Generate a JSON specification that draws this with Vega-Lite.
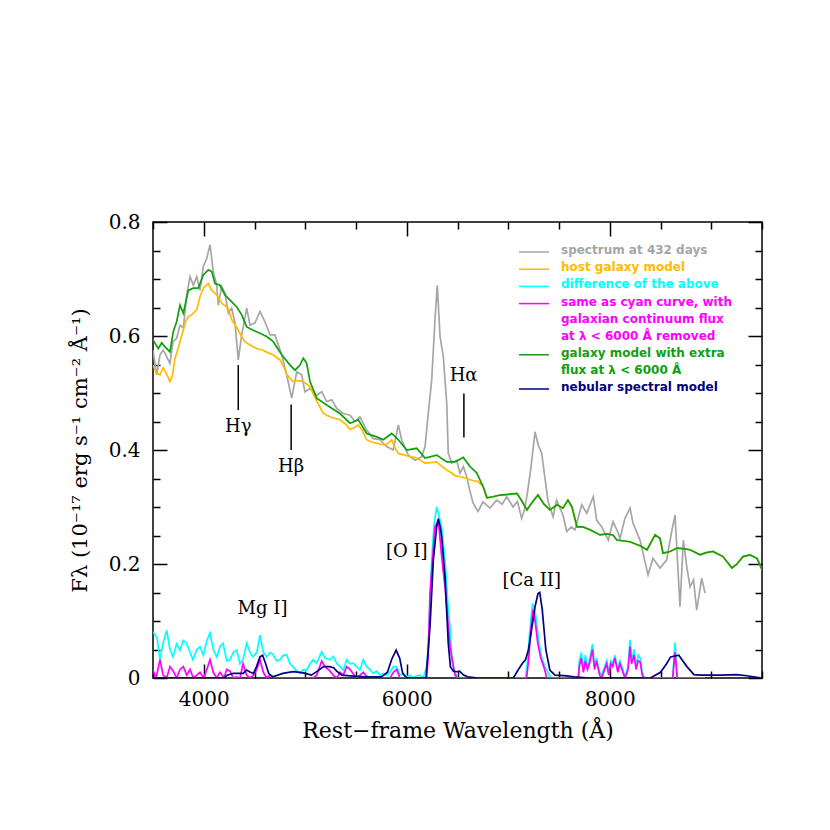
{
"$schema": "https://vega.github.io/schema/vega-lite/v6.json",
"width": 609, "height": 456,
"autosize": {"type": "none"},
"padding": {"left": 153, "top": 222, "right": 68, "bottom": 152},
"background": "white",
"config": {"view": {"stroke": "black", "strokeWidth": 1.5}},
"datasets": {
"gray": [{"x":3500,"y":0.575},{"x":3536,"y":0.532},{"x":3569,"y":0.567},{"x":3600,"y":0.575},{"x":3618,"y":0.57},{"x":3645,"y":0.56},{"x":3667,"y":0.552},{"x":3697,"y":0.59},{"x":3733,"y":0.596},{"x":3766,"y":0.619},{"x":3799,"y":0.614},{"x":3832,"y":0.672},{"x":3865,"y":0.704},{"x":3897,"y":0.689},{"x":3931,"y":0.704},{"x":3963,"y":0.68},{"x":3996,"y":0.722},{"x":4029,"y":0.736},{"x":4062,"y":0.76},{"x":4094,"y":0.713},{"x":4128,"y":0.689},{"x":4143,"y":0.654},{"x":4177,"y":0.687},{"x":4209,"y":0.675},{"x":4242,"y":0.64},{"x":4275,"y":0.649},{"x":4308,"y":0.623},{"x":4340,"y":0.558},{"x":4374,"y":0.602},{"x":4423,"y":0.649},{"x":4456,"y":0.619},{"x":4505,"y":0.623},{"x":4554,"y":0.643},{"x":4603,"y":0.625},{"x":4653,"y":0.602},{"x":4702,"y":0.602},{"x":4768,"y":0.567},{"x":4817,"y":0.532},{"x":4866,"y":0.491},{"x":4916,"y":0.537},{"x":4965,"y":0.532},{"x":4997,"y":0.502},{"x":5047,"y":0.508},{"x":5113,"y":0.496},{"x":5162,"y":0.502},{"x":5211,"y":0.485},{"x":5261,"y":0.488},{"x":5310,"y":0.473},{"x":5375,"y":0.464},{"x":5441,"y":0.461},{"x":5490,"y":0.45},{"x":5539,"y":0.458},{"x":5605,"y":0.435},{"x":5670,"y":0.42},{"x":5736,"y":0.418},{"x":5802,"y":0.406},{"x":5867,"y":0.4},{"x":5917,"y":0.444},{"x":5950,"y":0.418},{"x":6015,"y":0.391},{"x":6081,"y":0.382},{"x":6147,"y":0.388},{"x":6180,"y":0.406},{"x":6212,"y":0.464},{"x":6246,"y":0.523},{"x":6278,"y":0.628},{"x":6301,"y":0.689},{"x":6328,"y":0.599},{"x":6360,"y":0.564},{"x":6394,"y":0.482},{"x":6409,"y":0.394},{"x":6443,"y":0.377},{"x":6492,"y":0.382},{"x":6525,"y":0.359},{"x":6557,"y":0.371},{"x":6591,"y":0.353},{"x":6620,"y":0.33},{"x":6653,"y":0.307},{"x":6702,"y":0.292},{"x":6751,"y":0.309},{"x":6820,"y":0.298},{"x":6886,"y":0.312},{"x":6940,"y":0.305},{"x":6985,"y":0.318},{"x":7047,"y":0.3},{"x":7090,"y":0.31},{"x":7132,"y":0.28},{"x":7160,"y":0.295},{"x":7188,"y":0.324},{"x":7224,"y":0.37},{"x":7264,"y":0.432},{"x":7293,"y":0.41},{"x":7330,"y":0.394},{"x":7362,"y":0.35},{"x":7392,"y":0.31},{"x":7441,"y":0.283},{"x":7477,"y":0.312},{"x":7539,"y":0.286},{"x":7576,"y":0.257},{"x":7620,"y":0.265},{"x":7657,"y":0.26},{"x":7724,"y":0.304},{"x":7773,"y":0.289},{"x":7838,"y":0.318},{"x":7871,"y":0.277},{"x":7921,"y":0.265},{"x":7986,"y":0.242},{"x":8032,"y":0.274},{"x":8070,"y":0.26},{"x":8101,"y":0.245},{"x":8150,"y":0.28},{"x":8200,"y":0.298},{"x":8229,"y":0.272},{"x":8298,"y":0.242},{"x":8328,"y":0.219},{"x":8377,"y":0.181},{"x":8426,"y":0.21},{"x":8495,"y":0.193},{"x":8560,"y":0.207},{"x":8603,"y":0.25},{"x":8643,"y":0.286},{"x":8692,"y":0.125},{"x":8725,"y":0.242},{"x":8759,"y":0.195},{"x":8791,"y":0.16},{"x":8825,"y":0.172},{"x":8857,"y":0.119},{"x":8906,"y":0.175},{"x":8939,"y":0.149}],
"orange": [{"x":3500,"y":0.549},{"x":3535,"y":0.535},{"x":3569,"y":0.532},{"x":3600,"y":0.544},{"x":3630,"y":0.535},{"x":3667,"y":0.52},{"x":3690,"y":0.53},{"x":3717,"y":0.561},{"x":3750,"y":0.58},{"x":3786,"y":0.602},{"x":3820,"y":0.625},{"x":3848,"y":0.634},{"x":3880,"y":0.637},{"x":3931,"y":0.646},{"x":3963,"y":0.669},{"x":4000,"y":0.685},{"x":4045,"y":0.692},{"x":4080,"y":0.68},{"x":4110,"y":0.675},{"x":4130,"y":0.672},{"x":4180,"y":0.657},{"x":4239,"y":0.649},{"x":4278,"y":0.628},{"x":4328,"y":0.614},{"x":4370,"y":0.6},{"x":4406,"y":0.59},{"x":4456,"y":0.584},{"x":4520,"y":0.578},{"x":4584,"y":0.575},{"x":4640,"y":0.57},{"x":4682,"y":0.567},{"x":4751,"y":0.558},{"x":4790,"y":0.545},{"x":4820,"y":0.532},{"x":4879,"y":0.52},{"x":4930,"y":0.522},{"x":4978,"y":0.52},{"x":5020,"y":0.515},{"x":5047,"y":0.511},{"x":5080,"y":0.498},{"x":5116,"y":0.485},{"x":5175,"y":0.465},{"x":5211,"y":0.461},{"x":5260,"y":0.457},{"x":5342,"y":0.453},{"x":5400,"y":0.445},{"x":5441,"y":0.436},{"x":5490,"y":0.44},{"x":5523,"y":0.444},{"x":5560,"y":0.435},{"x":5605,"y":0.418},{"x":5650,"y":0.414},{"x":5704,"y":0.412},{"x":5750,"y":0.41},{"x":5800,"y":0.409},{"x":5852,"y":0.418},{"x":5880,"y":0.405},{"x":5917,"y":0.394},{"x":5960,"y":0.392},{"x":6000,"y":0.39},{"x":6050,"y":0.388},{"x":6100,"y":0.386},{"x":6150,"y":0.38},{"x":6180,"y":0.377},{"x":6230,"y":0.378},{"x":6295,"y":0.379},{"x":6340,"y":0.372},{"x":6394,"y":0.365},{"x":6440,"y":0.36},{"x":6475,"y":0.355},{"x":6520,"y":0.353},{"x":6557,"y":0.352},{"x":6594,"y":0.35},{"x":6653,"y":0.346},{"x":6700,"y":0.345},{"x":6752,"y":0.336},{"x":6790,"y":0.316},{"x":6850,"y":0.318},{"x":6919,"y":0.321},{"x":7000,"y":0.322},{"x":7086,"y":0.324},{"x":7135,"y":0.31},{"x":7184,"y":0.295},{"x":7244,"y":0.31},{"x":7293,"y":0.321},{"x":7352,"y":0.305},{"x":7411,"y":0.295},{"x":7480,"y":0.304},{"x":7539,"y":0.298},{"x":7588,"y":0.312},{"x":7628,"y":0.3},{"x":7677,"y":0.265},{"x":7736,"y":0.265},{"x":7805,"y":0.26},{"x":7904,"y":0.251},{"x":7970,"y":0.253},{"x":8032,"y":0.251},{"x":8070,"y":0.242},{"x":8198,"y":0.239},{"x":8298,"y":0.232},{"x":8367,"y":0.225},{"x":8446,"y":0.251},{"x":8495,"y":0.245},{"x":8525,"y":0.219},{"x":8594,"y":0.222},{"x":8663,"y":0.228},{"x":8720,"y":0.227},{"x":8791,"y":0.225},{"x":8889,"y":0.216},{"x":8950,"y":0.22},{"x":9017,"y":0.222},{"x":9115,"y":0.213},{"x":9204,"y":0.193},{"x":9254,"y":0.2},{"x":9313,"y":0.213},{"x":9382,"y":0.216},{"x":9451,"y":0.21},{"x":9500,"y":0.19}],
"green": [{"x":3500,"y":0.593},{"x":3552,"y":0.578},{"x":3586,"y":0.588},{"x":3618,"y":0.581},{"x":3667,"y":0.572},{"x":3700,"y":0.608},{"x":3733,"y":0.625},{"x":3766,"y":0.654},{"x":3799,"y":0.64},{"x":3848,"y":0.68},{"x":3897,"y":0.684},{"x":3946,"y":0.684},{"x":3996,"y":0.707},{"x":4045,"y":0.716},{"x":4078,"y":0.713},{"x":4111,"y":0.692},{"x":4160,"y":0.689},{"x":4209,"y":0.672},{"x":4259,"y":0.663},{"x":4325,"y":0.651},{"x":4374,"y":0.637},{"x":4423,"y":0.616},{"x":4488,"y":0.61},{"x":4554,"y":0.605},{"x":4620,"y":0.599},{"x":4685,"y":0.59},{"x":4768,"y":0.567},{"x":4850,"y":0.549},{"x":4899,"y":0.54},{"x":4948,"y":0.549},{"x":4981,"y":0.561},{"x":5014,"y":0.552},{"x":5047,"y":0.52},{"x":5113,"y":0.491},{"x":5211,"y":0.479},{"x":5342,"y":0.464},{"x":5441,"y":0.447},{"x":5523,"y":0.453},{"x":5605,"y":0.429},{"x":5704,"y":0.423},{"x":5769,"y":0.418},{"x":5852,"y":0.429},{"x":5917,"y":0.418},{"x":6000,"y":0.4},{"x":6098,"y":0.403},{"x":6180,"y":0.386},{"x":6295,"y":0.391},{"x":6394,"y":0.379},{"x":6475,"y":0.379},{"x":6557,"y":0.387},{"x":6623,"y":0.371},{"x":6689,"y":0.36},{"x":6720,"y":0.348},{"x":6752,"y":0.336},{"x":6790,"y":0.316},{"x":6850,"y":0.318},{"x":6919,"y":0.321},{"x":7000,"y":0.322},{"x":7086,"y":0.324},{"x":7135,"y":0.31},{"x":7184,"y":0.295},{"x":7244,"y":0.31},{"x":7293,"y":0.321},{"x":7352,"y":0.305},{"x":7411,"y":0.295},{"x":7480,"y":0.304},{"x":7539,"y":0.298},{"x":7588,"y":0.312},{"x":7628,"y":0.3},{"x":7677,"y":0.265},{"x":7736,"y":0.265},{"x":7805,"y":0.26},{"x":7904,"y":0.251},{"x":7970,"y":0.253},{"x":8032,"y":0.251},{"x":8070,"y":0.242},{"x":8198,"y":0.239},{"x":8298,"y":0.232},{"x":8367,"y":0.225},{"x":8446,"y":0.251},{"x":8495,"y":0.245},{"x":8525,"y":0.219},{"x":8594,"y":0.222},{"x":8663,"y":0.228},{"x":8720,"y":0.227},{"x":8791,"y":0.225},{"x":8889,"y":0.216},{"x":8950,"y":0.22},{"x":9017,"y":0.222},{"x":9115,"y":0.213},{"x":9204,"y":0.193},{"x":9254,"y":0.2},{"x":9313,"y":0.213},{"x":9382,"y":0.216},{"x":9451,"y":0.21},{"x":9500,"y":0.19}],
"cyan": [{"x":3500,"y":0.081},{"x":3540,"y":0.07},{"x":3569,"y":0.032},{"x":3598,"y":0.06},{"x":3635,"y":0.084},{"x":3667,"y":0.05},{"x":3697,"y":0.037},{"x":3733,"y":0.06},{"x":3766,"y":0.049},{"x":3799,"y":0.066},{"x":3832,"y":0.061},{"x":3865,"y":0.045},{"x":3894,"y":0.032},{"x":3931,"y":0.05},{"x":3963,"y":0.055},{"x":3996,"y":0.04},{"x":4029,"y":0.065},{"x":4062,"y":0.079},{"x":4094,"y":0.05},{"x":4128,"y":0.037},{"x":4160,"y":0.055},{"x":4190,"y":0.061},{"x":4226,"y":0.03},{"x":4259,"y":0.032},{"x":4291,"y":0.045},{"x":4325,"y":0.049},{"x":4357,"y":0.025},{"x":4387,"y":0.032},{"x":4423,"y":0.061},{"x":4456,"y":0.045},{"x":4485,"y":0.037},{"x":4522,"y":0.045},{"x":4554,"y":0.075},{"x":4587,"y":0.045},{"x":4620,"y":0.037},{"x":4653,"y":0.045},{"x":4682,"y":0.041},{"x":4719,"y":0.03},{"x":4751,"y":0.032},{"x":4784,"y":0.04},{"x":4817,"y":0.041},{"x":4850,"y":0.025},{"x":4879,"y":0.02},{"x":4916,"y":0.012},{"x":4948,"y":0.008},{"x":4981,"y":0.015},{"x":5014,"y":0.014},{"x":5047,"y":0.025},{"x":5076,"y":0.032},{"x":5113,"y":0.026},{"x":5162,"y":0.046},{"x":5195,"y":0.035},{"x":5244,"y":0.032},{"x":5276,"y":0.038},{"x":5310,"y":0.026},{"x":5342,"y":0.02},{"x":5375,"y":0.014},{"x":5408,"y":0.032},{"x":5441,"y":0.025},{"x":5471,"y":0.026},{"x":5506,"y":0.02},{"x":5539,"y":0.014},{"x":5572,"y":0.032},{"x":5605,"y":0.02},{"x":5638,"y":0.015},{"x":5667,"y":0.008},{"x":5704,"y":0.012},{"x":5736,"y":0.005},{"x":5769,"y":0.008},{"x":5802,"y":0.005},{"x":5835,"y":0.01},{"x":5868,"y":0.02},{"x":5901,"y":0.02},{"x":5933,"y":0.005},{"x":5966,"y":0.008},{"x":6000,"y":0.002},{"x":6032,"y":0.005},{"x":6065,"y":0.0},{"x":6098,"y":0.004},{"x":6130,"y":0.005},{"x":6163,"y":0.0},{"x":6196,"y":0.02},{"x":6212,"y":0.055},{"x":6246,"y":0.207},{"x":6269,"y":0.27},{"x":6295,"y":0.3},{"x":6311,"y":0.29},{"x":6344,"y":0.265},{"x":6377,"y":0.207},{"x":6409,"y":0.12},{"x":6426,"y":0.09},{"x":6446,"y":0.03},{"x":6460,"y":0.02},{"x":6475,"y":0.01},{"x":6505,"y":0.0},{"x":7170,"y":0.0},{"x":7190,"y":0.03},{"x":7210,"y":0.078},{"x":7240,"y":0.131},{"x":7270,"y":0.11},{"x":7300,"y":0.065},{"x":7330,"y":0.035},{"x":7360,"y":0.02},{"x":7390,"y":0.01},{"x":7420,"y":0.0},{"x":7690,"y":0.0},{"x":7700,"y":0.03},{"x":7720,"y":0.045},{"x":7740,"y":0.015},{"x":7760,"y":0.04},{"x":7780,"y":0.02},{"x":7800,"y":0.03},{"x":7830,"y":0.06},{"x":7850,"y":0.02},{"x":7870,"y":0.035},{"x":7900,"y":0.01},{"x":7920,"y":0.005},{"x":7950,"y":0.02},{"x":7970,"y":0.03},{"x":7990,"y":0.01},{"x":8010,"y":0.03},{"x":8030,"y":0.025},{"x":8050,"y":0.04},{"x":8080,"y":0.015},{"x":8100,"y":0.03},{"x":8130,"y":0.015},{"x":8150,"y":0.0},{"x":8180,"y":0.02},{"x":8200,"y":0.067},{"x":8215,"y":0.03},{"x":8240,"y":0.05},{"x":8260,"y":0.02},{"x":8280,"y":0.04},{"x":8300,"y":0.035},{"x":8320,"y":0.01},{"x":8340,"y":0.0},{"x":8620,"y":0.0},{"x":8643,"y":0.062},{"x":8665,"y":0.0},{"x":8939,"y":0.0}],
"magenta": [{"x":3500,"y":0.014},{"x":3530,"y":0.0},{"x":3569,"y":0.032},{"x":3600,"y":0.005},{"x":3635,"y":0.0},{"x":3667,"y":0.02},{"x":3700,"y":0.012},{"x":3733,"y":0.0},{"x":3766,"y":0.015},{"x":3799,"y":0.02},{"x":3832,"y":0.005},{"x":3865,"y":0.015},{"x":3897,"y":0.0},{"x":3931,"y":0.005},{"x":3963,"y":0.01},{"x":4000,"y":0.0},{"x":4030,"y":0.015},{"x":4062,"y":0.032},{"x":4094,"y":0.01},{"x":4128,"y":0.0},{"x":4160,"y":0.01},{"x":4200,"y":0.0},{"x":4226,"y":0.015},{"x":4259,"y":0.012},{"x":4291,"y":0.0},{"x":4325,"y":0.002},{"x":4357,"y":0.0},{"x":4387,"y":0.025},{"x":4423,"y":0.005},{"x":4456,"y":0.0},{"x":4490,"y":0.005},{"x":4522,"y":0.015},{"x":4554,"y":0.032},{"x":4587,"y":0.01},{"x":4620,"y":0.0},{"x":4653,"y":0.005},{"x":4700,"y":0.0},{"x":5080,"y":0.0},{"x":5113,"y":0.005},{"x":5162,"y":0.03},{"x":5195,"y":0.02},{"x":5244,"y":0.012},{"x":5276,"y":0.005},{"x":5310,"y":0.0},{"x":5342,"y":0.01},{"x":5375,"y":0.005},{"x":5408,"y":0.02},{"x":5441,"y":0.015},{"x":5471,"y":0.008},{"x":5506,"y":0.0},{"x":5540,"y":0.005},{"x":5572,"y":0.01},{"x":5605,"y":0.003},{"x":5640,"y":0.0},{"x":5835,"y":0.0},{"x":5868,"y":0.01},{"x":5901,"y":0.015},{"x":5933,"y":0.0},{"x":6196,"y":0.0},{"x":6212,"y":0.04},{"x":6229,"y":0.149},{"x":6278,"y":0.265},{"x":6311,"y":0.277},{"x":6344,"y":0.213},{"x":6377,"y":0.16},{"x":6426,"y":0.055},{"x":6475,"y":0.005},{"x":6500,"y":0.0},{"x":7180,"y":0.0},{"x":7200,"y":0.03},{"x":7220,"y":0.08},{"x":7245,"y":0.12},{"x":7265,"y":0.1},{"x":7290,"y":0.062},{"x":7320,"y":0.035},{"x":7350,"y":0.02},{"x":7380,"y":0.0},{"x":7690,"y":0.0},{"x":7700,"y":0.02},{"x":7720,"y":0.035},{"x":7740,"y":0.01},{"x":7760,"y":0.03},{"x":7780,"y":0.015},{"x":7800,"y":0.025},{"x":7830,"y":0.05},{"x":7850,"y":0.015},{"x":7870,"y":0.03},{"x":7900,"y":0.005},{"x":7920,"y":0.0},{"x":7950,"y":0.015},{"x":7970,"y":0.025},{"x":7990,"y":0.005},{"x":8010,"y":0.025},{"x":8030,"y":0.02},{"x":8050,"y":0.035},{"x":8080,"y":0.01},{"x":8100,"y":0.025},{"x":8130,"y":0.01},{"x":8150,"y":0.0},{"x":8180,"y":0.015},{"x":8200,"y":0.055},{"x":8215,"y":0.025},{"x":8240,"y":0.04},{"x":8260,"y":0.015},{"x":8280,"y":0.03},{"x":8300,"y":0.028},{"x":8320,"y":0.005},{"x":8340,"y":0.0},{"x":8620,"y":0.0},{"x":8643,"y":0.045},{"x":8665,"y":0.0},{"x":8939,"y":0.0}],
"navy": [{"x":3500,"y":0.0},{"x":4200,"y":0.0},{"x":4230,"y":0.005},{"x":4290,"y":0.008},{"x":4390,"y":0.008},{"x":4420,"y":0.014},{"x":4460,"y":0.01},{"x":4490,"y":0.008},{"x":4520,"y":0.02},{"x":4554,"y":0.037},{"x":4580,"y":0.04},{"x":4610,"y":0.025},{"x":4640,"y":0.008},{"x":4680,"y":0.002},{"x":4780,"y":0.008},{"x":4880,"y":0.011},{"x":4950,"y":0.01},{"x":5000,"y":0.008},{"x":5060,"y":0.005},{"x":5120,"y":0.012},{"x":5180,"y":0.02},{"x":5240,"y":0.02},{"x":5280,"y":0.018},{"x":5310,"y":0.012},{"x":5360,"y":0.005},{"x":5420,"y":0.004},{"x":5500,"y":0.003},{"x":5600,"y":0.002},{"x":5750,"y":0.002},{"x":5810,"y":0.01},{"x":5850,"y":0.032},{"x":5895,"y":0.049},{"x":5930,"y":0.035},{"x":5960,"y":0.008},{"x":6000,"y":0.0},{"x":6190,"y":0.0},{"x":6229,"y":0.09},{"x":6262,"y":0.207},{"x":6295,"y":0.265},{"x":6311,"y":0.279},{"x":6330,"y":0.265},{"x":6344,"y":0.248},{"x":6377,"y":0.178},{"x":6409,"y":0.061},{"x":6430,"y":0.02},{"x":6460,"y":0.012},{"x":6490,"y":0.011},{"x":6520,"y":0.012},{"x":6560,"y":0.005},{"x":6600,"y":0.002},{"x":6700,"y":0.0},{"x":7050,"y":0.0},{"x":7100,"y":0.015},{"x":7140,"y":0.026},{"x":7170,"y":0.032},{"x":7200,"y":0.05},{"x":7224,"y":0.078},{"x":7264,"y":0.125},{"x":7293,"y":0.148},{"x":7310,"y":0.15},{"x":7335,"y":0.12},{"x":7370,"y":0.05},{"x":7410,"y":0.014},{"x":7460,"y":0.005},{"x":7550,"y":0.004},{"x":7650,"y":0.002},{"x":7800,"y":0.0},{"x":8400,"y":0.0},{"x":8500,"y":0.01},{"x":8560,"y":0.025},{"x":8600,"y":0.037},{"x":8680,"y":0.04},{"x":8760,"y":0.02},{"x":8830,"y":0.006},{"x":8900,"y":0.005},{"x":9100,"y":0.005},{"x":9250,"y":0.006},{"x":9350,"y":0.004},{"x":9500,"y":0.0}],
"labels": [{"t":"Hγ","x":4340,"y":0.441},{"t":"Hβ","x":4861,"y":0.371},{"t":"Hα","x":6560,"y":0.529},{"t":"[O I]","x":6000,"y":0.221},{"t":"[Ca II]","x":7231,"y":0.17},{"t":"Mg I]","x":4579,"y":0.121}],
"marks": [{"x":4340,"y":0.549,"y2":0.47},{"x":4861,"y":0.48,"y2":0.4},{"x":6563,"y":0.499,"y2":0.422}]
},
"layer": [
{"data": {"name": "gray"}, "mark": {"type": "line", "strokeWidth": 1.7, "clip": true},
 "encoding": {
  "x": {"field": "x", "type": "quantitative", "scale": {"domain": [3500, 9500], "nice": false, "zero": false},
   "axis": {"orient": "bottom", "values": [4000, 6000, 8000], "format": "d", "labelOverlap": false, "labelFlush": false, "tickSize": -14, "tickColor": "black", "tickWidth": 1.5, "domain": false, "grid": false, "labelFont": "DejaVu Serif", "labelFontSize": 20, "labelColor": "black", "labelPadding": 25, "title": "Rest−frame Wavelength (Å)", "titleFont": "DejaVu Serif", "titleFontSize": 22, "titleFontWeight": "normal", "titleColor": "black", "titlePadding": 11}},
  "y": {"field": "y", "type": "quantitative", "scale": {"domain": [0, 0.8], "nice": false, "zero": false},
   "axis": {"orient": "left", "values": [0, 0.2, 0.4, 0.6, 0.8], "labelExpr": "format(datum.value, '.1~f')", "labelOverlap": false, "labelFlush": false, "tickSize": -14, "tickColor": "black", "tickWidth": 1.5, "domain": false, "grid": false, "labelFont": "DejaVu Serif", "labelFontSize": 20, "labelColor": "black", "labelPadding": 27, "title": "Fλ (10⁻¹⁷ erg s⁻¹ cm⁻² Å⁻¹)", "titleFont": "DejaVu Serif", "titleFontSize": 21, "titleFontWeight": "normal", "titleColor": "black", "titlePadding": 18}},
  "color": {"datum": "spectrum at 432 days", "type": "nominal",
   "scale": {"domain": ["spectrum at 432 days", "host galaxy model", "difference of the above", "same as cyan curve, with|galaxian continuum flux|at λ < 6000 Å removed", "galaxy model with extra|flux at λ < 6000 Å", "nebular spectral model"], "range": ["#a6a6a6", "#ffbb00", "#00ffff", "#ff00ff", "#10a010", "#000080"]},
   "legend": {"orient": "none", "legendX": 365, "legendY": 23, "title": null, "symbolType": "M-1,0H1", "symbolSize": 900, "symbolStrokeWidth": 1.5, "labelFont": "DejaVu Sans", "labelFontWeight": "bold", "labelFontSize": 12, "labelOffset": 11, "labelLimit": 0, "labelBaseline": "top", "rowPadding": 5.2, "labelExpr": "split(datum.label, '|')",
    "encode": {"symbols": {"update": {"y": {"value": 7}}}, "labels": {"update": {"y": {"value": 0}, "fill": {"scale": "color", "field": "value"}, "lineHeight": {"value": 17}}}}}}
 }},
{"data": {"name": "orange"}, "mark": {"type": "line", "strokeWidth": 1.7, "clip": true},
 "encoding": {
  "x": {"field": "x", "type": "quantitative", "axis": {"orient": "top", "values": [4000, 6000, 8000], "labels": false, "title": null, "domain": false, "grid": false, "tickSize": -14, "tickColor": "black", "tickWidth": 1.5}},
  "y": {"field": "y", "type": "quantitative", "axis": {"orient": "right", "values": [0, 0.2, 0.4, 0.6, 0.8], "labels": false, "title": null, "domain": false, "grid": false, "tickSize": -14, "tickColor": "black", "tickWidth": 1.5}},
  "color": {"datum": "host galaxy model", "type": "nominal"}
 }},
{"data": {"name": "green"}, "mark": {"type": "line", "strokeWidth": 1.7, "clip": true},
 "encoding": {
  "x": {"field": "x", "type": "quantitative", "axis": {"orient": "bottom", "values": [3500,4500,5000,5500,6500,7000,7500,8500,9000,9500], "labels": false, "title": null, "domain": false, "grid": false, "tickSize": -7, "tickColor": "black", "tickWidth": 1.5}},
  "y": {"field": "y", "type": "quantitative", "axis": {"orient": "left", "values": [0.05,0.1,0.15,0.25,0.3,0.35,0.45,0.5,0.55,0.65,0.7,0.75], "labels": false, "title": null, "domain": false, "grid": false, "tickSize": -7, "tickColor": "black", "tickWidth": 1.5}},
  "color": {"datum": "galaxy model with extra|flux at λ < 6000 Å", "type": "nominal"}}},
{"data": {"name": "cyan"}, "mark": {"type": "line", "strokeWidth": 1.7, "clip": true},
 "encoding": {
  "x": {"field": "x", "type": "quantitative", "axis": {"orient": "top", "values": [3500,4500,5000,5500,6500,7000,7500,8500,9000,9500], "labels": false, "title": null, "domain": false, "grid": false, "tickSize": -7, "tickColor": "black", "tickWidth": 1.5}},
  "y": {"field": "y", "type": "quantitative", "axis": {"orient": "right", "values": [0.05,0.1,0.15,0.25,0.3,0.35,0.45,0.5,0.55,0.65,0.7,0.75], "labels": false, "title": null, "domain": false, "grid": false, "tickSize": -7, "tickColor": "black", "tickWidth": 1.5}},
  "color": {"datum": "difference of the above", "type": "nominal"}}},
{"data": {"name": "magenta"}, "mark": {"type": "line", "strokeWidth": 1.7, "clip": true},
 "encoding": {"x": {"field": "x", "type": "quantitative", "axis": null}, "y": {"field": "y", "type": "quantitative", "axis": null}, "color": {"datum": "same as cyan curve, with|galaxian continuum flux|at λ < 6000 Å removed", "type": "nominal"}}},
{"data": {"name": "navy"}, "mark": {"type": "line", "strokeWidth": 1.7, "clip": true},
 "encoding": {"x": {"field": "x", "type": "quantitative", "axis": null}, "y": {"field": "y", "type": "quantitative", "axis": null}, "color": {"datum": "nebular spectral model", "type": "nominal"}}},
{"data": {"name": "marks"}, "mark": {"type": "rule", "color": "black", "strokeWidth": 1.5},
 "encoding": {"x": {"field": "x", "type": "quantitative", "axis": null}, "y": {"field": "y", "type": "quantitative", "axis": null}, "y2": {"field": "y2"}}},
{"data": {"name": "labels"}, "mark": {"type": "text", "font": "DejaVu Serif", "fontSize": 18, "color": "black", "align": "center", "baseline": "middle"},
 "encoding": {"x": {"field": "x", "type": "quantitative", "axis": null}, "y": {"field": "y", "type": "quantitative", "axis": null}, "text": {"field": "t"}}}
],
"resolve": {"axis": {"x": "independent", "y": "independent"}}
}
